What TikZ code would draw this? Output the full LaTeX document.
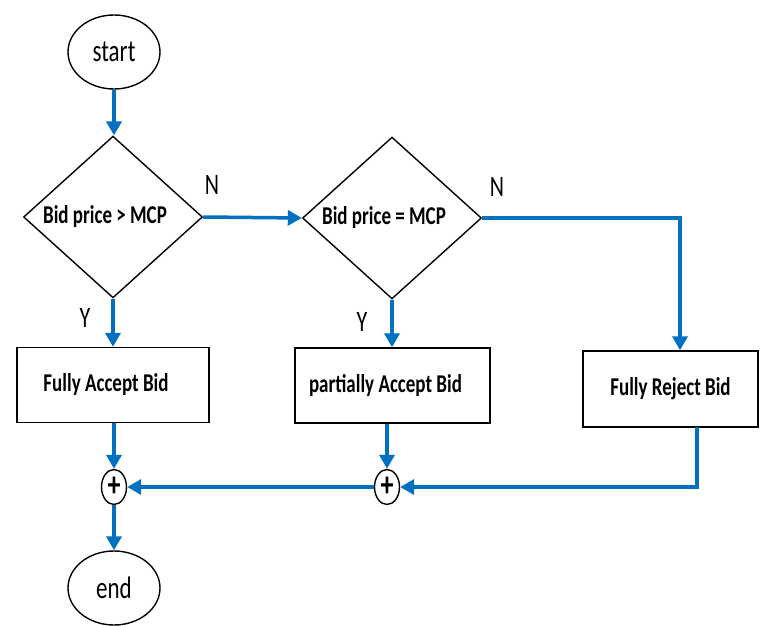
\documentclass[tikz,border=0pt]{standalone}
\usepackage{fontspec}
\setmainfont{Carlito}
\usepackage{graphicx}
\usetikzlibrary{shapes.geometric,arrows.meta}
\definecolor{flowblue}{HTML}{0070C0}
\newcommand{\vstr}[1]{\scalebox{1}[1.35]{#1}}
\tikzset{
  terminal/.style={ellipse,draw=black,line width=1.4pt,minimum width=92pt,minimum height=74pt,inner sep=0pt,font=\fontsize{23}{26}\selectfont},
  decision/.style={diamond,draw=black,line width=1.4pt,minimum width=179pt,minimum height=161pt,inner sep=0pt,font=\bfseries\fontsize{19}{22}\selectfont},
  process/.style={rectangle,draw=black,line width=1.4pt,inner sep=0pt,font=\bfseries\fontsize{19}{22}\selectfont},
  junction/.style={ellipse,draw=black,line width=1.4pt,minimum width=25pt,minimum height=35pt,inner sep=0pt,font=\bfseries\fontsize{26}{26}\selectfont},
  flow/.style={draw=flowblue,line width=3.5pt},
  flowarrow/.style={flow,-{Triangle[length=14pt,width=15pt]}},
  yn/.style={font=\fontsize{22}{24}\selectfont},
}
\begin{document}
\begin{tikzpicture}[x=1pt,y=-1pt]
\useasboundingbox[fill=white] (0,0) rectangle (760,626);

\node[terminal] (start) at (114,52) {\vstr{start}};
\node[decision] (d1) at (113,217) {\vstr{Bid price > MCP}\hspace*{16pt}};
\node[decision] (d2) at (392,218) {\vstr{Bid price = MCP}\hspace*{16pt}};
\node[process,minimum width=192pt,minimum height=75pt] (acc) at (113,385) {\vstr{Fully Accept Bid}\hspace*{14pt}};
\node[process,minimum width=195pt,minimum height=75pt] (part) at (392.5,385.5) {\vstr{partially Accept Bid}\hspace*{14pt}};
\node[process,minimum width=175pt,minimum height=76pt] (rej) at (670.5,389) {\vstr{Fully Reject Bid}};
\node[junction] (p1) at (114,487) {\vstr{+}};
\node[junction] (p2) at (387,487) {\vstr{+}};
\node[terminal] (end) at (114,588) {\vstr{end}};

\node[yn] (n1) at (212,185) {\vstr{N}};
\node[yn] (n2) at (497,187) {\vstr{N}};
\node[yn] (y1) at (85,318) {\vstr{Y}};
\node[yn] (y2) at (362,322) {\vstr{Y}};

\coordinate (r1) at (680,218);
\coordinate (r2) at (697,427);

\draw[flowarrow] (start.south) -- (start.south |- d1.north);
\draw[flowarrow] (d1.east) -- (d2.west);
\draw[flowarrow] (d2.east) -- (r1) -- (r1 |- rej.north);
\draw[flowarrow] (d1.south) -- (d1.south |- acc.north);
\draw[flowarrow] (d2.south) -- (d2.south |- part.north);
\draw[flowarrow] (p1 |- acc.south) -- (p1.north);
\draw[flowarrow] (p2 |- part.south) -- (p2.north);
\draw[flowarrow] (r2) -- (r2 |- p2) -- (p2.east);
\draw[flowarrow] (p2.west) -- (p1.east);
\draw[flowarrow] (p1.south) -- (end.north);
\end{tikzpicture}
\end{document}
